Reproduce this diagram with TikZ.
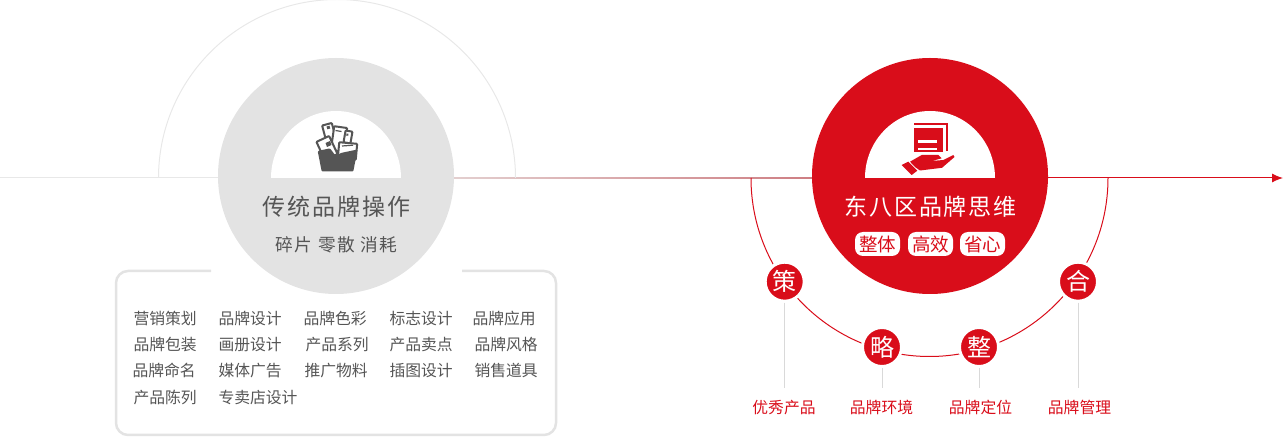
\documentclass[tikz,border=0pt]{standalone}
\usepackage{fontspec}
\usetikzlibrary{arrows.meta}
\setmainfont{Noto Sans CJK SC}
\newfontfamily\wideFont[LetterSpace=8]{Noto Sans CJK SC}
\definecolor{brandRed}{HTML}{D90D1A}
\definecolor{circleGray}{HTML}{E3E3E3}
\definecolor{lineGray}{HTML}{E8E8E8}
\definecolor{stemGray}{HTML}{D9D9D9}
\definecolor{textGray}{HTML}{555555}
\definecolor{iconGray}{HTML}{555555}
\definecolor{fadeLeft}{HTML}{E3CFCF}
\definecolor{fadeMid}{HTML}{CB9292}
\definecolor{fadeRight}{HTML}{C04850}
\tikzset{
  brandtext/.style={inner sep=0pt, text height=14pt, text depth=1pt, font=\fontsize{15.8}{18}\selectfont},
  itemtext/.style={brandtext, anchor=west, text=textGray, xshift=-0.7pt},
  steptext/.style={brandtext, text=brandRed},
  stepdot/.style={circle, minimum size=39pt, inner sep=0pt, fill=brandRed, draw=white, line width=3pt, text=white, font=\fontsize{24}{26}\selectfont},
  pill/.style={rounded corners=8pt, minimum width=45pt, minimum height=24pt, inner sep=0pt, fill=white, text=brandRed, font=\fontsize{18.5}{20}\selectfont},
  stemline/.style={stemGray, line width=1pt, shorten >=11.5pt},
}
% one sheet of paper in the folder
\newcommand{\iconpaper}[5]{
  \draw[iconGray, fill=white, line width=2pt, rounded corners=0.8pt, rotate around={#5:(#1,#2)}]
    ({#1-#3/2},{#2-#4/2}) rectangle ({#1+#3/2},{#2+#4/2});
}
\begin{document}
\begin{tikzpicture}[x=1pt,y=-1pt]
    \useasboundingbox (0,0) rectangle (1283,443);

    % axis, fades from gray to red
    \coordinate (axisStart) at (0,178);
    \coordinate (axisFade) at (1048,178);
    \coordinate (axisEnd) at (1283,178);
    \fill[lineGray] (0,177.5) rectangle (454,178.5);
    \shade[left color=fadeLeft, middle color=fadeMid, right color=fadeRight] (454,177.5) rectangle (1048,178.5);
    \draw[brandRed, line width=1pt, -{Latex[length=11pt,width=9pt]}] (axisFade) -- (axisEnd);

    % big arcs
    \coordinate (oldArcStart) at (158.5,178);
    \coordinate (newArcStart) at (751,178);
    \draw[lineGray, line width=1pt] (oldArcStart) arc[start angle=180, end angle=360, radius=178.5];
    \draw[brandRed, line width=1pt] (newArcStart) arc[start angle=180, end angle=0, radius=178.5];

    % old side
    \fill[circleGray] (336,176) circle (118);
    \fill[white] (271,178) arc[start angle=180, end angle=360, x radius=65, y radius=67] -- cycle;
    \iconpaper{329}{132}{10}{16}{15}
    \iconpaper{339}{139}{13}{24}{-8}
    \iconpaper{348}{137}{7}{12}{-10}
    \fill[iconGray] (326.5,126.5) -- (329.5,125.7) -- (330.3,128.5) -- (327.3,129.3) -- cycle;
    \draw[iconGray, line width=1.2pt] (335.5,130.5) -- (341.5,131.5);
    \fill[iconGray] (346.5,133.5) -- (348.5,133.8) -- (348.2,135.8) -- (346.2,135.5) -- cycle;
    \iconpaper{327}{148}{14}{20}{25}
    \fill[iconGray] (325.5,143) -- (330,141) -- (331.5,145) -- (327,147) -- cycle;
    \iconpaper{347.5}{151}{18}{16}{-5}
    \draw[iconGray, line width=1.2pt] (342,146) -- (353,145.2);
    \fill[iconGray, rounded corners=1pt] (317.7,151) -- (330,148.3) -- (335,155) -- (338.3,155)
      -- (340.7,153) -- (357.5,149.5) -- (353.3,171.5) -- (321.7,171.5) -- cycle;
    \node[text=textGray, font=\fontsize{23}{26}\selectfont\wideFont, inner sep=0pt] (oldTitle) at (336.5,207) {传统品牌操作};
    \node[text=textGray, font=\fontsize{17.7}{20}\selectfont\wideFont, inner sep=0pt] (oldSub) at (336.5,244.5) {碎片 零散 消耗};

    % list box, open at the top under the circle
    \draw[circleGray, line width=2.5pt, rounded corners=12pt]
      (211,271) -- (116,271) -- (116,435) -- (556,435) -- (556,271) -- (462,271);
    \foreach \idx/\xpos/\ypos/\txt in {
      1/134/318/营销策划, 2/219/318/品牌设计, 3/304/318/品牌色彩, 4/390/318/标志设计, 5/473/318/品牌应用,
      6/134/344/品牌包装, 7/219/344/画册设计, 8/306/344/产品系列, 9/390/344/产品卖点, 10/475/344/品牌风格,
      11/133/370/品牌命名, 12/219/370/媒体广告, 13/305/370/推广物料, 14/390/370/插图设计, 15/475/370/销售道具,
      16/134/397/产品陈列, 17/219/397/专卖店设计}
      \node[itemtext] (item\idx) at (\xpos,\ypos) {\txt};

    % new side
    \fill[brandRed] (930,176) circle (118);
    \fill[white] (865,178) arc[start angle=180, end angle=360, x radius=65, y radius=67] -- cycle;
    \draw[brandRed, line width=2pt] (914.3,124) -- (947,124) -- (947,151);
    \fill[brandRed] (914.3,128.3) rectangle (943,151.7);
    \fill[white] (918,140) rectangle (937,142.7);
    \fill[white] (918,148) rectangle (937,150.5);
    \fill[brandRed] (910,161.7) -- (921.7,155) -- (938.3,155) -- (941.7,158.3) -- (931.7,161) -- (943.3,160)
      -- (953.3,155) -- (954.5,157) -- (942,167.8) -- (920,170.5) -- (915,167) -- cycle;
    \fill[brandRed] (901.7,165) -- (908.3,161.7) -- (917.3,170.7) -- (911.7,175) -- cycle;
    \node[text=white, font=\fontsize{23}{26}\selectfont\wideFont, inner sep=0pt] (newTitle) at (930.5,207) {东八区品牌思维};
    \node[pill] (pillA) at (877.5,244) {整体};
    \node[pill] (pillB) at (930.5,244) {高效};
    \node[pill] (pillC) at (982.5,244) {省心};

    % steps on the red arc
    \foreach \name/\xpos/\ypos/\glyph/\xlab/\txt in {
      ce/784.7/281.7/策/784/优秀产品,
      lue/882/347/略/881.5/品牌环境,
      zheng/979/347/整/980.5/品牌定位,
      he/1078/281.7/合/1079.5/品牌管理}{
      \node[stepdot] (\name) at (\xpos,\ypos) {\glyph};
      \node[steptext] (\name Label) at (\xlab,407) {\txt};
      \draw[stemline] (\name.south) -- (\name.south |- \name Label.north);
    }
\end{tikzpicture}
\end{document}
